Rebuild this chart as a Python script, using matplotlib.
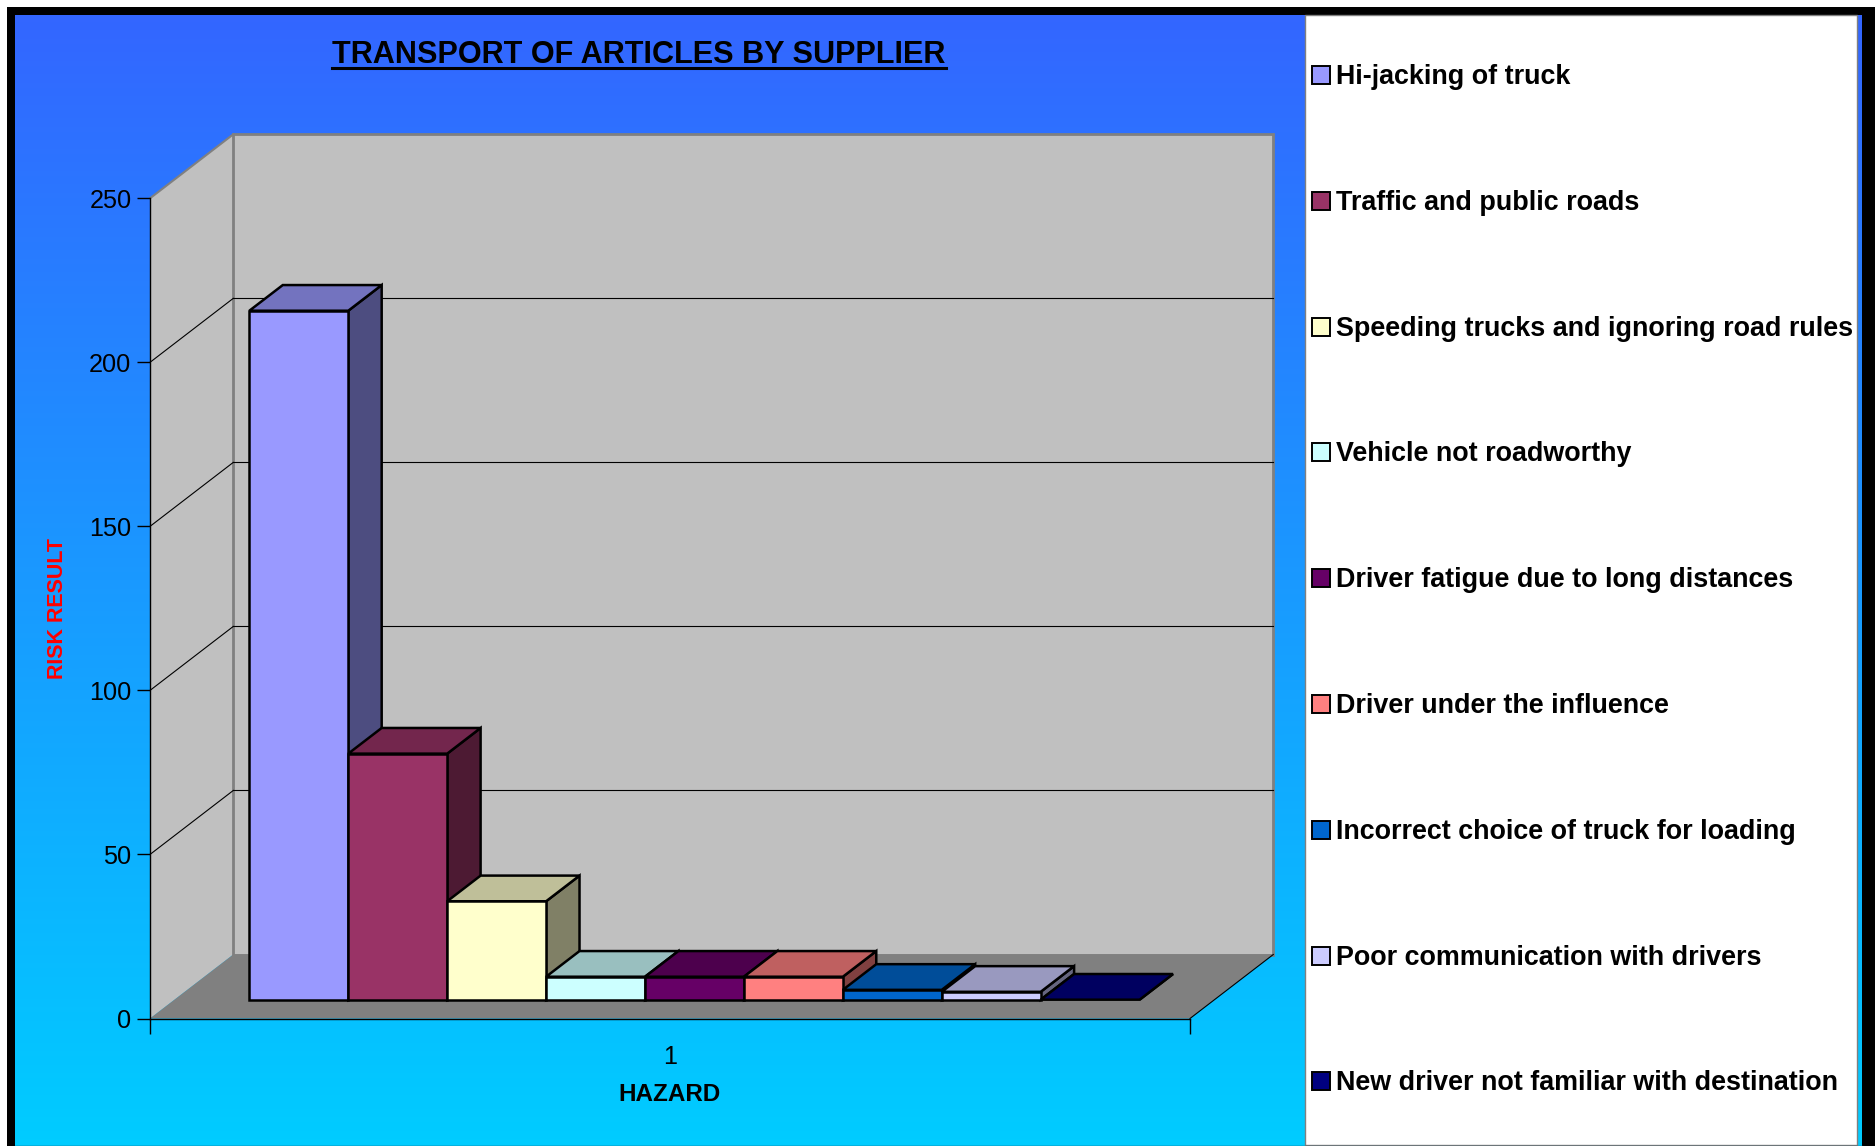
import numpy as np
import matplotlib
matplotlib.use("Agg")
import matplotlib.pyplot as plt
from matplotlib.patches import Polygon, Rectangle
from matplotlib.lines import Line2D
from matplotlib.colors import LinearSegmentedColormap, to_rgb

plt.rcParams["font.family"] = ["Liberation Sans", "DejaVu Sans"]

# Hazards, risk results and series colours
hazards = [
    "Hi-jacking of truck",
    "Traffic and public roads",
    "Speeding trucks and ignoring road rules",
    "Vehicle not roadworthy",
    "Driver fatigue due to long distances",
    "Driver under the influence",
    "Incorrect choice of truck for loading",
    "Poor communication with drivers",
    "New driver not familiar with destination",
]
risk = [210, 75, 30, 7, 7, 7, 3, 2.4, 0]
colors = ["#9999FF", "#993366", "#FFFFCC", "#CCFFFF", "#660066",
          "#FF8080", "#0066CC", "#CCCCFF", "#000080"]
y_ticks = [0, 50, 100, 150, 200, 250]
category = "1"

W, H = 1875, 1146
fig = plt.figure(figsize=(W / 100, H / 100), dpi=100)

# page layer in pixel units: gradient fill, black frame, legend panel
bg = fig.add_axes([0, 0, 1, 1], zorder=0)
grad = LinearSegmentedColormap.from_list("chartbg", ["#3366FF", "#00CCFF"])
bg.imshow(np.linspace(0, 1, 256).reshape(-1, 1), cmap=grad, aspect="auto",
          extent=(15, 1862, H, 15), origin="upper", interpolation="bilinear")
bg.set_xlim(0, W)
bg.set_ylim(H, 0)
bg.axis("off")
for x0, y0, w, h in [(7, 7, W - 7, 8), (7, 7, 8, H - 7), (1862, 7, W - 1862, H - 7)]:
    bg.add_patch(Rectangle((x0, y0), w, h, color="black", lw=0))
bg.plot([15, 1862], [H - 0.5, H - 0.5], color="#1a4a60", lw=1)

# legend panel
bg.add_patch(Rectangle((1305, 15), 552, H - 16, fc="white", ec="#808080", lw=1))
for i, (lab, col) in enumerate(zip(hazards, colors)):
    yc = 75 + 125.8 * i
    bg.add_patch(Rectangle((1311.5, yc - 9), 18, 18, fc=col, ec="black", lw=1.4))
    bg.text(1336.5, yc + 9, lab, ha="left", va="baseline",
            fontsize=19.4, fontweight="bold", color="black")

# chart axes: front plane of the 3-D box
ax = fig.add_axes([150 / W, 1 - 1018.5 / H, 1040 / W, 820.2 / H], zorder=2)
ax.set_xlim(0.5, 1.5)
ax.set_ylim(0, 250)
ax.patch.set_visible(False)

# oblique depth offset, in data units
DX = 83.3 / 1040
DY = 64 / (820.2 / 250)

# walls and floor
ax.add_patch(Polygon([(0.5, 0), (0.5, 250), (0.5 + DX, 250 + DY), (0.5 + DX, DY)],
                     fc="#C0C0C0", ec="none", clip_on=False, zorder=1))
ax.add_patch(Rectangle((0.5 + DX, DY), 1, 250, fc="#C0C0C0", ec="#808080",
                       lw=2, clip_on=False, zorder=1))
ax.add_patch(Polygon([(0.5, 0), (1.5, 0), (1.5 + DX, DY), (0.5 + DX, DY)],
                     fc="#808080", ec="none", clip_on=False, zorder=1.1))
ax.plot([0.5, 0.5 + DX], [250, 250 + DY], color="#808080", lw=1.5, clip_on=False, zorder=1.2)
ax.plot([1.5, 1.5 + DX], [0, DY], color="black", lw=0.8, clip_on=False, zorder=1.2)
for v in y_ticks[1:-1]:
    ax.plot([0.5 + DX, 1.5 + DX], [v + DY, v + DY], color="black", lw=0.8,
            clip_on=False, zorder=1.2)
    ax.plot([0.5, 0.5 + DX], [v, v + DY], color="black", lw=0.8,
            clip_on=False, zorder=1.2)

# 3-D bars, drawn left to right so each front face covers its neighbour's side
group = 0.856
bw = group / len(risk)
d0, d1 = 0.294, 0.695
edge = dict(ec="black", lw=1.8, joinstyle="miter", clip_on=False, zorder=3)
for i, (val, col) in enumerate(zip(risk, colors)):
    xl = 1 - group / 2 + i * bw + d0 * DX
    xr = xl + bw
    y0 = d0 * DY
    ox, oy = (d1 - d0) * DX, (d1 - d0) * DY
    rgb = np.array(to_rgb(col))
    ax.add_patch(Polygon([(xr, y0), (xr + ox, y0 + oy), (xr + ox, y0 + oy + val), (xr, y0 + val)],
                         fc=rgb * 0.5, **edge))
    ax.add_patch(Polygon([(xl, y0 + val), (xr, y0 + val), (xr + ox, y0 + oy + val), (xl + ox, y0 + oy + val)],
                         fc=rgb * 0.75, **edge))
    if val > 0:
        ax.add_patch(Rectangle((xl, y0), bw, val, fc=col, **edge))

# axes, ticks and labels
for s in ["top", "right"]:
    ax.spines[s].set_visible(False)
for s in ["left", "bottom"]:
    ax.spines[s].set_color("black")
    ax.spines[s].set_linewidth(1)
    ax.spines[s].set_zorder(4)
ax.set_yticks(y_ticks)
ax.tick_params(axis="y", length=9.4, width=1, pad=4, labelsize=18.2, colors="black")
ax.set_xticks([0.5, 1.5])
ax.set_xticklabels(["", ""])
ax.tick_params(axis="x", which="major", length=11, width=1, direction="out")
ax.set_xticks([1], minor=True)
ax.set_xticklabels([category], minor=True)
ax.tick_params(axis="x", which="minor", length=0, pad=19, labelsize=18.2)
ax.set_xlabel("HAZARD", fontsize=17.5, fontweight="bold", labelpad=10)
ax.set_ylabel("RISK RESULT", fontsize=15.5, fontweight="bold", color="#FF0000", labelpad=15)

title = fig.text(639 / W, 1 - 62.7 / H, "TRANSPORT OF ARTICLES BY SUPPLIER",
                 ha="center", va="baseline", fontsize=22.1, fontweight="bold")
fig.canvas.draw()
bb = title.get_window_extent()
fig.add_artist(Line2D([bb.x0 / W, bb.x1 / W], [1 - 67.7 / H] * 2,
                      transform=fig.transFigure, color="black", lw=2.2))

fig.savefig("out.png", dpi=100)
